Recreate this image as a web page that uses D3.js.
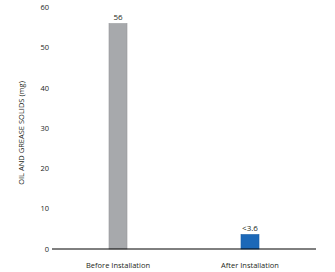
<!DOCTYPE html>
<html>
<head>
<meta charset="utf-8">
<script src="https://cdn.jsdelivr.net/npm/d3@7"></script>
<style>
  body { margin: 0; background: #fff; }
  text { font-family: "Open Sans", sans-serif; fill: #231f20; }
</style>
</head>
<body>
<svg></svg>
<script>
var categories = ['Before Installation', 'After Installation'];
var values = [56, 3.6];
var valueLabels = ['56', '<3.6'];
var barColors = ['#a7a9ac', '#1c68b8'];
var yTicks = [0, 10, 20, 30, 40, 50, 60];

var w = 335;
var h = 272;

var svg = d3.select('svg')
            .attr('width', w)
            .attr('height', h);

var x = d3.scalePoint()
          .domain(categories)
          .range([52, 316])
          .padding(0.5);

var y = d3.scaleLinear()
          .domain([0, 60])
          .range([249, 7.5]);

var barW = 18;

// y tick labels, no tick lines
svg.append('g')
   .selectAll('text')
   .data(yTicks)
   .enter()
   .append('text')
   .attr('x', 49)
   .attr('y', function(d){ return y(d); })
   .attr('dy', '0.35em')
   .attr('text-anchor', 'end')
   .style('font-size', '7.5px')
   .text(function(d){ return d; });

// bars
svg.append('g')
   .selectAll('rect')
   .data(values)
   .enter()
   .append('rect')
   .attr('x', function(d, i){ return x(categories[i]) - barW/2; })
   .attr('y', function(d){ return y(d); })
   .attr('width', barW)
   .attr('height', function(d){ return y(0) - y(d); })
   .attr('fill', function(d, i){ return barColors[i]; })
   .attr('stroke', function(d, i){ return d3.color(barColors[i]).darker(0.3); })
   .attr('stroke-width', 0.6);

// value labels
svg.append('g')
   .selectAll('text')
   .data(values)
   .enter()
   .append('text')
   .attr('x', function(d, i){ return x(categories[i]); })
   .attr('y', function(d){ return y(d) - 4; })
   .attr('text-anchor', 'middle')
   .style('font-size', '8px')
   .text(function(d, i){ return valueLabels[i]; });

// baseline
svg.append('line')
   .attr('x1', 52)
   .attr('x2', 316)
   .attr('y1', y(0))
   .attr('y2', y(0))
   .attr('stroke', '#000')
   .attr('stroke-width', 1);

// category labels
svg.append('g')
   .selectAll('text')
   .data(categories)
   .enter()
   .append('text')
   .attr('x', function(d){ return x(d); })
   .attr('y', 268)
   .attr('text-anchor', 'middle')
   .style('font-size', '7.5px')
   .text(function(d){ return d; });

// y axis title
svg.append('text')
   .attr('transform', 'translate(24,133) rotate(-90)')
   .attr('text-anchor', 'middle')
   .style('font-size', '7.5px')
   .text('OIL AND GREASE SOLIDS  (mg)');
</script>
</body>
</html>
